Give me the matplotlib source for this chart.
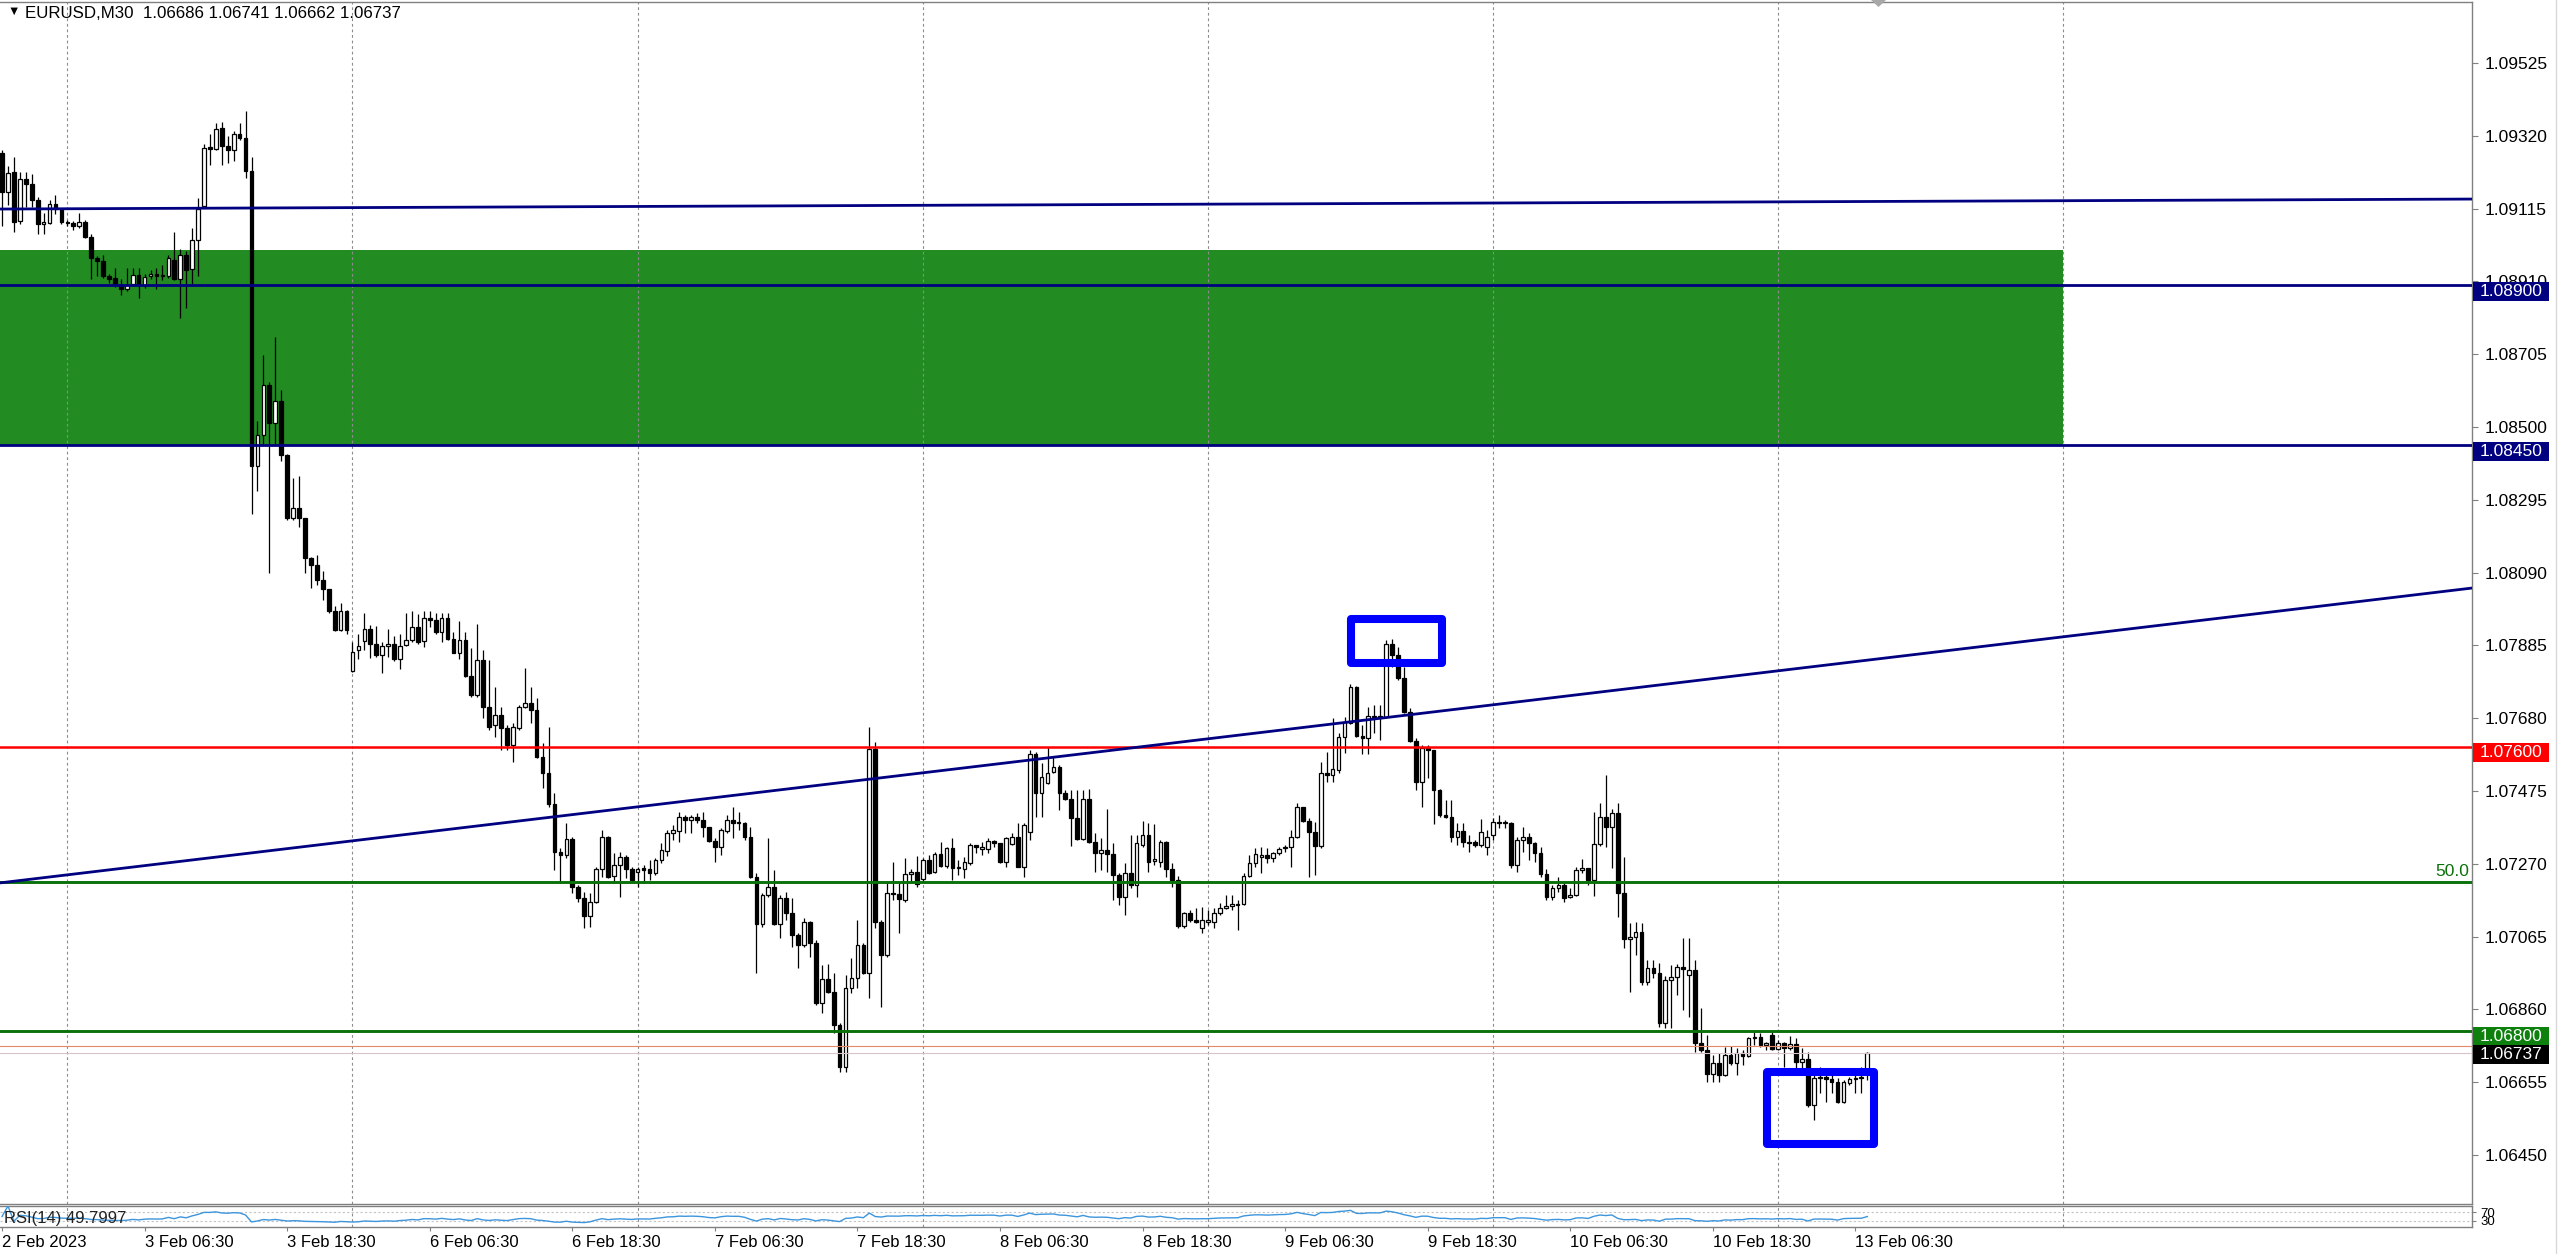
import numpy as np
import matplotlib.pyplot as plt
from matplotlib.patches import Rectangle, Polygon
from matplotlib.lines import Line2D
from matplotlib.transforms import blended_transform_factory

plt.rcParams["font.family"] = ["Liberation Sans", "DejaVu Sans"]

# EURUSD M30, bar 0 = 2 Feb 2023 18:30 (server time), last bar = 13 Feb 08:00
opens = [
    1.09272, 1.09162, 1.09218, 1.09080, 1.09198, 1.09184, 1.09139, 1.09072, 1.09075, 1.09128,
    1.09114, 1.09077, 1.09075, 1.09066, 1.09077, 1.09035, 1.08976, 1.08967, 1.08925, 1.08920,
    1.08900, 1.08889, 1.08903, 1.08928, 1.08900, 1.08925, 1.08931, 1.08925, 1.08925, 1.08970,
    1.08917, 1.08984, 1.08945, 1.09027, 1.09122, 1.09289, 1.09283, 1.09342, 1.09291, 1.09280,
    1.09325, 1.09314, 1.09221, 1.08390, 1.08477, 1.08618, 1.08511, 1.08573, 1.08421, 1.08244,
    1.08272, 1.08244, 1.08131, 1.08111, 1.08069, 1.08044, 1.07982, 1.07928, 1.07982, 1.07813,
    1.07872, 1.07897, 1.07931, 1.07889, 1.07858, 1.07883, 1.07889, 1.07847, 1.07886, 1.07900,
    1.07937, 1.07897, 1.07962, 1.07957, 1.07923, 1.07962, 1.07903, 1.07864, 1.07900, 1.07799,
    1.07745, 1.07844, 1.07712, 1.07661, 1.07689, 1.07652, 1.07605, 1.07652, 1.07712, 1.07723,
    1.07703, 1.07571, 1.07526, 1.07438, 1.07303, 1.07295, 1.07340, 1.07205, 1.07174, 1.07123,
    1.07162, 1.07255, 1.07345, 1.07236, 1.07267, 1.07289, 1.07255, 1.07247, 1.07258, 1.07255,
    1.07244, 1.07281, 1.07306, 1.07357, 1.07362, 1.07402, 1.07393, 1.07402, 1.07393, 1.07374,
    1.07334, 1.07317, 1.07362, 1.07393, 1.07388, 1.07385, 1.07345, 1.07233, 1.07100, 1.07182,
    1.07205, 1.07100, 1.07174, 1.07131, 1.07069, 1.07041, 1.07106, 1.07047, 1.06878, 1.06946,
    1.06909, 1.06816, 1.06698, 1.06920, 1.06948, 1.07041, 1.06963, 1.07593, 1.07106, 1.07013,
    1.07188, 1.07185, 1.07168, 1.07241, 1.07247, 1.07227, 1.07281, 1.07247, 1.07298, 1.07264,
    1.07315, 1.07258, 1.07255, 1.07272, 1.07323, 1.07312, 1.07312, 1.07334, 1.07329, 1.07275,
    1.07326, 1.07345, 1.07261, 1.07360, 1.07579, 1.07469, 1.07498, 1.07529, 1.07543, 1.07469,
    1.07453, 1.07399, 1.07340, 1.07453, 1.07331, 1.07300, 1.07309, 1.07298, 1.07238, 1.07177,
    1.07244, 1.07210, 1.07323, 1.07351, 1.07278, 1.07275, 1.07331, 1.07255, 1.07224, 1.07095,
    1.07131, 1.07112, 1.07089, 1.07106, 1.07106, 1.07131, 1.07146, 1.07151, 1.07154, 1.07157,
    1.07236, 1.07272, 1.07289, 1.07295, 1.07286, 1.07300, 1.07315, 1.07317, 1.07345, 1.07430,
    1.07391, 1.07360, 1.07320, 1.07526, 1.07520, 1.07534, 1.07627, 1.07667, 1.07768, 1.07630,
    1.07624, 1.07686, 1.07683, 1.07683, 1.07889, 1.07858, 1.07793, 1.07697, 1.07616, 1.07500,
    1.07596, 1.07590, 1.07478, 1.07407, 1.07402, 1.07345, 1.07362, 1.07331, 1.07331, 1.07323,
    1.07317, 1.07351, 1.07388, 1.07385, 1.07385, 1.07267, 1.07337, 1.07345, 1.07329, 1.07300,
    1.07241, 1.07177, 1.07202, 1.07210, 1.07177, 1.07182, 1.07253, 1.07258, 1.07224, 1.07326,
    1.07402, 1.07374, 1.07413, 1.07188, 1.07058, 1.07064, 1.07078, 1.06937, 1.06977, 1.06963,
    1.06822, 1.06943, 1.06951, 1.06979, 1.06957, 1.06971, 1.06765, 1.06746, 1.06678, 1.06709,
    1.06675, 1.06732, 1.06709, 1.06737, 1.06729, 1.06779, 1.06782, 1.06760, 1.06788, 1.06749,
    1.06765, 1.06751, 1.06763, 1.06712, 1.06720, 1.06591, 1.06667, 1.06670, 1.06664, 1.06656,
    1.06599, 1.06653, 1.06664, 1.06667, 1.06686,
]
highs = [
    1.09280, 1.09235, 1.09260, 1.09218, 1.09218, 1.09212, 1.09148, 1.09103, 1.09139, 1.09153,
    1.09117, 1.09083, 1.09080, 1.09103, 1.09083, 1.09043, 1.08982, 1.08984, 1.08931, 1.08948,
    1.08917, 1.08948, 1.08948, 1.08948, 1.08931, 1.08942, 1.08948, 1.08956, 1.08984, 1.09049,
    1.09001, 1.08996, 1.09060, 1.09145, 1.09297, 1.09325, 1.09356, 1.09359, 1.09319, 1.09334,
    1.09356, 1.09390, 1.09260, 1.08517, 1.08703, 1.08627, 1.08753, 1.08604, 1.08424, 1.08356,
    1.08362, 1.08244, 1.08134, 1.08140, 1.08095, 1.08044, 1.07996, 1.08004, 1.07985, 1.07895,
    1.07917, 1.07976, 1.07942, 1.07940, 1.07895, 1.07931, 1.07911, 1.07917, 1.07976, 1.07982,
    1.07973, 1.07982, 1.07982, 1.07976, 1.07976, 1.07976, 1.07923, 1.07954, 1.07923, 1.07878,
    1.07945, 1.07872, 1.07844, 1.07768, 1.07712, 1.07661, 1.07667, 1.07717, 1.07821, 1.07768,
    1.07737, 1.07610, 1.07655, 1.07469, 1.07315, 1.07385, 1.07345, 1.07210, 1.07191, 1.07188,
    1.07261, 1.07365, 1.07348, 1.07300, 1.07303, 1.07295, 1.07261, 1.07261, 1.07267, 1.07281,
    1.07286, 1.07329, 1.07365, 1.07379, 1.07416, 1.07407, 1.07407, 1.07413, 1.07416, 1.07374,
    1.07343, 1.07371, 1.07407, 1.07430, 1.07416, 1.07388, 1.07374, 1.07244, 1.07188, 1.07343,
    1.07253, 1.07182, 1.07191, 1.07174, 1.07075, 1.07117, 1.07109, 1.07055, 1.06985, 1.06988,
    1.06963, 1.06822, 1.06957, 1.07005, 1.07112, 1.07047, 1.07655, 1.07613, 1.07112, 1.07216,
    1.07275, 1.07216, 1.07286, 1.07255, 1.07292, 1.07286, 1.07295, 1.07303, 1.07331, 1.07317,
    1.07343, 1.07281, 1.07289, 1.07329, 1.07323, 1.07331, 1.07343, 1.07337, 1.07329, 1.07345,
    1.07357, 1.07385, 1.07385, 1.07590, 1.07585, 1.07554, 1.07599, 1.07571, 1.07548, 1.07478,
    1.07478, 1.07478, 1.07478, 1.07481, 1.07357, 1.07343, 1.07424, 1.07329, 1.07244, 1.07272,
    1.07351, 1.07351, 1.07391, 1.07385, 1.07382, 1.07337, 1.07334, 1.07272, 1.07236, 1.07134,
    1.07140, 1.07146, 1.07148, 1.07140, 1.07146, 1.07160, 1.07182, 1.07182, 1.07168, 1.07244,
    1.07295, 1.07315, 1.07317, 1.07315, 1.07303, 1.07317, 1.07323, 1.07365, 1.07441, 1.07430,
    1.07399, 1.07388, 1.07557, 1.07585, 1.07681, 1.07638, 1.07683, 1.07776, 1.07771, 1.07661,
    1.07712, 1.07717, 1.07717, 1.07900, 1.07903, 1.07881, 1.07824, 1.07709, 1.07624, 1.07605,
    1.07605, 1.07590, 1.07481, 1.07450, 1.07450, 1.07385, 1.07385, 1.07351, 1.07337, 1.07396,
    1.07365, 1.07399, 1.07407, 1.07393, 1.07388, 1.07345, 1.07374, 1.07357, 1.07331, 1.07317,
    1.07255, 1.07210, 1.07233, 1.07216, 1.07202, 1.07261, 1.07284, 1.07258, 1.07416, 1.07441,
    1.07520, 1.07424, 1.07441, 1.07289, 1.07103, 1.07106, 1.07103, 1.06999, 1.06999, 1.06991,
    1.06954, 1.06985, 1.06988, 1.07061, 1.07061, 1.06999, 1.06864, 1.06788, 1.06732, 1.06737,
    1.06754, 1.06757, 1.06751, 1.06746, 1.06782, 1.06796, 1.06794, 1.06768, 1.06796, 1.06774,
    1.06768, 1.06785, 1.06779, 1.06751, 1.06740, 1.06681, 1.06698, 1.06681, 1.06675, 1.06667,
    1.06661, 1.06670, 1.06675, 1.06698, 1.06741,
]
lows = [
    1.09066, 1.09125, 1.09049, 1.09072, 1.09120, 1.09120, 1.09043, 1.09043, 1.09072, 1.09100,
    1.09072, 1.09066, 1.09055, 1.09060, 1.09032, 1.08917, 1.08925, 1.08920, 1.08906, 1.08894,
    1.08872, 1.08883, 1.08900, 1.08863, 1.08891, 1.08917, 1.08889, 1.08914, 1.08920, 1.08914,
    1.08807, 1.08835, 1.08900, 1.08925, 1.09120, 1.09238, 1.09280, 1.09238, 1.09243, 1.09249,
    1.09308, 1.09201, 1.08255, 1.08320, 1.08449, 1.08089, 1.08452, 1.08404, 1.08238, 1.08238,
    1.08218, 1.08089, 1.08047, 1.08055, 1.08013, 1.07976, 1.07926, 1.07926, 1.07917, 1.07810,
    1.07847, 1.07872, 1.07850, 1.07852, 1.07807, 1.07852, 1.07841, 1.07819, 1.07883, 1.07895,
    1.07889, 1.07881, 1.07937, 1.07917, 1.07895, 1.07900, 1.07864, 1.07847, 1.07796, 1.07740,
    1.07740, 1.07681, 1.07647, 1.07627, 1.07590, 1.07590, 1.07557, 1.07647, 1.07709, 1.07667,
    1.07568, 1.07483, 1.07430, 1.07253, 1.07216, 1.07286, 1.07188, 1.07162, 1.07089, 1.07092,
    1.07160, 1.07233, 1.07230, 1.07219, 1.07177, 1.07230, 1.07222, 1.07205, 1.07216, 1.07224,
    1.07238, 1.07272, 1.07292, 1.07337, 1.07331, 1.07357, 1.07357, 1.07385, 1.07345, 1.07331,
    1.07275, 1.07295, 1.07357, 1.07343, 1.07365, 1.07337, 1.07230, 1.06963, 1.07092, 1.07177,
    1.07098, 1.07061, 1.07112, 1.07036, 1.06977, 1.07036, 1.07008, 1.06872, 1.06850, 1.06906,
    1.06794, 1.06684, 1.06684, 1.06906, 1.06920, 1.06960, 1.06892, 1.07089, 1.06867, 1.07008,
    1.07168, 1.07075, 1.07162, 1.07219, 1.07205, 1.07219, 1.07241, 1.07244, 1.07261, 1.07258,
    1.07224, 1.07238, 1.07230, 1.07267, 1.07300, 1.07295, 1.07300, 1.07317, 1.07272, 1.07261,
    1.07323, 1.07261, 1.07233, 1.07337, 1.07402, 1.07402, 1.07495, 1.07526, 1.07421, 1.07450,
    1.07320, 1.07337, 1.07337, 1.07329, 1.07247, 1.07253, 1.07247, 1.07168, 1.07154, 1.07126,
    1.07202, 1.07177, 1.07317, 1.07247, 1.07267, 1.07261, 1.07233, 1.07205, 1.07089, 1.07089,
    1.07106, 1.07103, 1.07075, 1.07098, 1.07089, 1.07126, 1.07143, 1.07140, 1.07084, 1.07154,
    1.07233, 1.07261, 1.07244, 1.07272, 1.07275, 1.07295, 1.07303, 1.07261, 1.07343, 1.07388,
    1.07233, 1.07238, 1.07315, 1.07500, 1.07500, 1.07526, 1.07582, 1.07664, 1.07627, 1.07579,
    1.07579, 1.07638, 1.07619, 1.07681, 1.07824, 1.07788, 1.07695, 1.07613, 1.07478, 1.07430,
    1.07512, 1.07382, 1.07402, 1.07399, 1.07331, 1.07323, 1.07317, 1.07303, 1.07317, 1.07317,
    1.07295, 1.07337, 1.07371, 1.07371, 1.07258, 1.07247, 1.07303, 1.07281, 1.07275, 1.07233,
    1.07168, 1.07168, 1.07191, 1.07162, 1.07174, 1.07179, 1.07244, 1.07210, 1.07179, 1.07320,
    1.07317, 1.07258, 1.07120, 1.07033, 1.06909, 1.07013, 1.06929, 1.06929, 1.06948, 1.06810,
    1.06808, 1.06808, 1.06901, 1.06858, 1.06839, 1.06740, 1.06740, 1.06656, 1.06656, 1.06656,
    1.06672, 1.06703, 1.06675, 1.06703, 1.06726, 1.06760, 1.06754, 1.06746, 1.06746, 1.06746,
    1.06698, 1.06746, 1.06695, 1.06695, 1.06585, 1.06549, 1.06625, 1.06599, 1.06625, 1.06596,
    1.06596, 1.06647, 1.06625, 1.06625, 1.06662,
]
closes = [
    1.09162, 1.09215, 1.09077, 1.09198, 1.09184, 1.09139, 1.09072, 1.09077, 1.09128, 1.09114,
    1.09077, 1.09075, 1.09066, 1.09077, 1.09035, 1.08976, 1.08967, 1.08925, 1.08917, 1.08900,
    1.08889, 1.08900, 1.08928, 1.08900, 1.08922, 1.08931, 1.08925, 1.08928, 1.08976, 1.08917,
    1.08984, 1.08942, 1.09027, 1.09114, 1.09286, 1.09283, 1.09339, 1.09291, 1.09280, 1.09325,
    1.09314, 1.09221, 1.08390, 1.08477, 1.08618, 1.08511, 1.08573, 1.08421, 1.08244, 1.08272,
    1.08244, 1.08131, 1.08111, 1.08069, 1.08044, 1.07982, 1.07928, 1.07982, 1.07928, 1.07866,
    1.07883, 1.07931, 1.07889, 1.07858, 1.07883, 1.07889, 1.07847, 1.07883, 1.07900, 1.07937,
    1.07895, 1.07962, 1.07957, 1.07923, 1.07962, 1.07903, 1.07864, 1.07900, 1.07799, 1.07745,
    1.07844, 1.07712, 1.07655, 1.07689, 1.07652, 1.07605, 1.07655, 1.07712, 1.07723, 1.07703,
    1.07571, 1.07526, 1.07438, 1.07303, 1.07295, 1.07340, 1.07205, 1.07174, 1.07123, 1.07162,
    1.07255, 1.07345, 1.07233, 1.07267, 1.07289, 1.07255, 1.07224, 1.07255, 1.07253, 1.07244,
    1.07281, 1.07309, 1.07357, 1.07365, 1.07402, 1.07393, 1.07402, 1.07393, 1.07374, 1.07334,
    1.07317, 1.07365, 1.07393, 1.07385, 1.07385, 1.07345, 1.07233, 1.07100, 1.07182, 1.07205,
    1.07100, 1.07174, 1.07131, 1.07069, 1.07041, 1.07106, 1.07047, 1.06878, 1.06946, 1.06909,
    1.06816, 1.06698, 1.06920, 1.06948, 1.07041, 1.06963, 1.07593, 1.07106, 1.07013, 1.07188,
    1.07185, 1.07171, 1.07241, 1.07247, 1.07213, 1.07281, 1.07244, 1.07298, 1.07264, 1.07315,
    1.07258, 1.07261, 1.07275, 1.07323, 1.07317, 1.07317, 1.07334, 1.07329, 1.07275, 1.07343,
    1.07345, 1.07261, 1.07379, 1.07579, 1.07469, 1.07514, 1.07526, 1.07543, 1.07469, 1.07453,
    1.07399, 1.07340, 1.07453, 1.07331, 1.07300, 1.07309, 1.07298, 1.07238, 1.07177, 1.07244,
    1.07210, 1.07329, 1.07351, 1.07275, 1.07284, 1.07331, 1.07255, 1.07224, 1.07095, 1.07131,
    1.07112, 1.07106, 1.07112, 1.07112, 1.07131, 1.07146, 1.07151, 1.07157, 1.07157, 1.07236,
    1.07272, 1.07298, 1.07295, 1.07286, 1.07300, 1.07312, 1.07317, 1.07345, 1.07430, 1.07391,
    1.07360, 1.07320, 1.07526, 1.07520, 1.07537, 1.07627, 1.07669, 1.07768, 1.07630, 1.07624,
    1.07686, 1.07683, 1.07686, 1.07889, 1.07858, 1.07793, 1.07697, 1.07616, 1.07500, 1.07596,
    1.07590, 1.07478, 1.07407, 1.07402, 1.07345, 1.07362, 1.07331, 1.07329, 1.07323, 1.07360,
    1.07345, 1.07388, 1.07385, 1.07388, 1.07267, 1.07337, 1.07345, 1.07329, 1.07300, 1.07241,
    1.07177, 1.07202, 1.07210, 1.07174, 1.07182, 1.07253, 1.07258, 1.07224, 1.07326, 1.07402,
    1.07374, 1.07413, 1.07188, 1.07058, 1.07064, 1.07078, 1.06937, 1.06977, 1.06963, 1.06822,
    1.06943, 1.06951, 1.06979, 1.06974, 1.06971, 1.06765, 1.06746, 1.06678, 1.06709, 1.06675,
    1.06732, 1.06709, 1.06737, 1.06729, 1.06779, 1.06782, 1.06760, 1.06765, 1.06749, 1.06765,
    1.06751, 1.06763, 1.06712, 1.06720, 1.06591, 1.06667, 1.06670, 1.06664, 1.06656, 1.06599,
    1.06656, 1.06664, 1.06667, 1.06670, 1.06737,
]

time_label_bars = [0, 24, 48, 72, 96, 120, 144, 168, 192, 216, 240, 264, 288, 312]
time_labels = ["2 Feb 2023", "3 Feb 06:30", "3 Feb 18:30", "6 Feb 06:30", "6 Feb 18:30",
               "7 Feb 06:30", "7 Feb 18:30", "8 Feb 06:30", "8 Feb 18:30", "9 Feb 06:30",
               "9 Feb 18:30", "10 Feb 06:30", "10 Feb 18:30", "13 Feb 06:30"]
day_start_bars = [11, 59, 107, 155, 203, 251, 299, 347]

price_ticks = [1.09525, 1.09320, 1.09115, 1.08910, 1.08705, 1.08500, 1.08295, 1.08090,
               1.07885, 1.07680, 1.07475, 1.07270, 1.07065, 1.06860, 1.06655, 1.06450]

zone_low, zone_high, zone_end_bar = 1.08450, 1.09000, 347
navy_levels = [1.08900, 1.08450]
red_level = 1.07600
fib_50_level = 1.07220
green_level = 1.06800
bid_price, ask_price = 1.06737, 1.06756
upper_trend = [(0, 1.09114), (415, 1.09142)]
rising_trend = [(0, 1.07217), (415, 1.08045)]
peak_box = (227.1, 242.4, 1.07835, 1.07959)   # bar from, bar to, price low, price high
low_box = (297.1, 315.2, 1.06481, 1.06684)

# ---------------------------------------------------------------------------
W, H = 2560, 1254
fig = plt.figure(figsize=(W / 100, H / 100), dpi=100)
fig.patch.set_facecolor("white")


def fx(px):
    return px / W


def fy(py):
    return 1 - py / H


GRAY = "#808080"
NAVY = "#000080"
GREEN = "#0a700a"

ax = fig.add_axes([0, fy(1204), fx(2472), (1204 - 2) / H])
rsi_ax = fig.add_axes([0, fy(1227), fx(2472), (1227 - 1206) / H])

x_min, x_max = -0.34, 415.8
ax.set_xlim(x_min, x_max)
rsi_ax.set_xlim(x_min, x_max)
ax.set_ylim(1.06312, 1.09697)
rsi_ax.set_ylim(0, 100)

for a in (ax, rsi_ax):
    a.spines["left"].set_visible(False)
    for s in ("top", "bottom", "right"):
        a.spines[s].set_color(GRAY)
        a.spines[s].set_linewidth(1.0)
    for b in day_start_bars:
        a.axvline(b, color="#8c8c8c", lw=0.8, ls=(0, (2.5, 2.5)), zorder=1.5)

# candles
idx = np.arange(len(closes))
o, h, l, c = (np.array(v) for v in (opens, highs, lows, closes))
up = c >= o
body_lo = np.minimum(o, c)
body_h = np.abs(c - o)
ax.vlines(idx, l, h, color="black", lw=0.9, zorder=3)
ax.bar(idx[up], body_h[up], bottom=body_lo[up], width=0.62, color="white",
       edgecolor="black", linewidth=0.9, zorder=4)
ax.bar(idx[~up], body_h[~up], bottom=body_lo[~up], width=0.62, color="black",
       edgecolor="black", linewidth=0.9, zorder=4)

# supply zone
ax.add_patch(Rectangle((x_min - 1, zone_low), zone_end_bar - x_min + 1, zone_high - zone_low,
                       facecolor="#228B22", edgecolor="none", zorder=1))

# levels and trendlines
for lvl in navy_levels:
    ax.axhline(lvl, color=NAVY, lw=2.0, zorder=5)
ax.axhline(red_level, color="#ff0000", lw=1.8, zorder=5)
ax.axhline(fib_50_level, color=GREEN, lw=2.1, zorder=5)
ax.axhline(green_level, color=GREEN, lw=2.1, zorder=5)
ax.axhline(ask_price, color="#e08a6a", lw=0.8, zorder=5)
ax.axhline(bid_price, color="#d9c2c8", lw=0.8, zorder=5)
ax.axline(upper_trend[0], upper_trend[1], color=NAVY, lw=2.0, zorder=5)
ax.axline(rising_trend[0], rising_trend[1], color=NAVY, lw=2.0, zorder=5)

for x0, x1, p0, p1 in (peak_box, low_box):
    ax.add_patch(Rectangle((x0, p0), x1 - x0, p1 - p0, fill=False, edgecolor="#0000ff",
                           linewidth=5.8, joinstyle="round", zorder=6))

# right price axis
ax.yaxis.tick_right()
ax.set_yticks(price_ticks)
ax.set_yticklabels([f"{p:.5f}" for p in price_ticks])
ax.tick_params(axis="y", length=4, width=0.8, color=GRAY, pad=5, labelsize=12.5)
ax.tick_params(axis="x", bottom=False, labelbottom=False)

trans = blended_transform_factory(ax.transAxes, ax.transData)
y0, y1 = ax.get_ylim()
per_px = (y1 - y0) / 1202
# (price, text, colour, box top offset above the line in px)
price_tags = [(1.08900, "1.08900", NAVY, 3), (1.08450, "1.08450", NAVY, 3),
              (1.07600, "1.07600", "#ff0000", 4), (1.06800, "1.06800", "#0d800d", 4),
              (bid_price, "1.06737", "black", 8)]
for price, text, col, top in price_tags:
    box_top = price + top * per_px
    ax.add_patch(Rectangle((1 + 1 / 2472, box_top - 19 * per_px), 76 / 2472, 19 * per_px,
                           transform=trans, facecolor=col, edgecolor="none",
                           clip_on=False, zorder=10))
    ax.text(1 + 8 / 2472, box_top - 9.5 * per_px, text, transform=trans, color="white",
            fontsize=12.5, va="center", ha="left", clip_on=False, zorder=11)

ax.text(1 - 3 / 2472, fib_50_level + 0.00008, "50.0", transform=trans, color=GREEN,
        fontsize=12.5, ha="right", va="bottom", zorder=11)

# RSI(14) sub-window
delta = np.diff(c)
gain = np.where(delta > 0, delta, 0.0)
loss = np.where(delta < 0, -delta, 0.0)
period = 14
rsi_vals = np.full(len(c), np.nan)
avg_g, avg_l = gain[0], loss[0]
for i in range(1, len(c)):
    n = min(i, period)
    avg_g = (avg_g * (n - 1) + gain[i - 1]) / n
    avg_l = (avg_l * (n - 1) + loss[i - 1]) / n
    rsi_vals[i] = 100 - 100 / (1 + avg_g / avg_l) if avg_l > 0 else 100
rsi_vals[0] = 50
rsi_ax.plot(idx, rsi_vals, color="#3d95dc", lw=1.0, zorder=3)
for lvl in (70, 30):
    rsi_ax.axhline(lvl, color="#c4c4c4", lw=0.8, ls=(0, (2, 2)), zorder=1)
rsi_ax.text(0.0015, 0.42, "RSI(14) 49.7997", transform=rsi_ax.transAxes, fontsize=12,
            color="#222222", va="center", ha="left", zorder=5)
rsi_ax.yaxis.tick_right()
rsi_ax.set_yticks([70, 30])
rsi_ax.set_yticklabels(["70", "30"])
rsi_ax.tick_params(axis="y", length=3, color=GRAY, pad=3, labelsize=9.5)

rsi_ax.set_xticks(time_label_bars)
rsi_ax.set_xticklabels(time_labels, fontsize=12)
for lab in rsi_ax.get_xticklabels():
    lab.set_horizontalalignment("left")
rsi_ax.tick_params(axis="x", length=3, color=GRAY, pad=3)

# header and window furniture
fig.text(fx(7), fy(12), "\u25bc", fontsize=9, va="center", ha="left")
fig.text(fx(25), fy(14), "EURUSD,M30  1.06686 1.06741 1.06662 1.06737", fontsize=12.2,
         va="center", ha="left")
fig.add_artist(Polygon([[fx(1871), fy(0)], [fx(1886), fy(0)], [fx(1878.5), fy(7)]],
                       closed=True, transform=fig.transFigure, facecolor="#a8a8a8",
                       edgecolor="none"))
fig.add_artist(Line2D([fx(2556), fx(2556)], [0, 1], transform=fig.transFigure,
                      color="#d8d8d8", lw=1.0))

fig.savefig("out.png", dpi=100, facecolor="white")
